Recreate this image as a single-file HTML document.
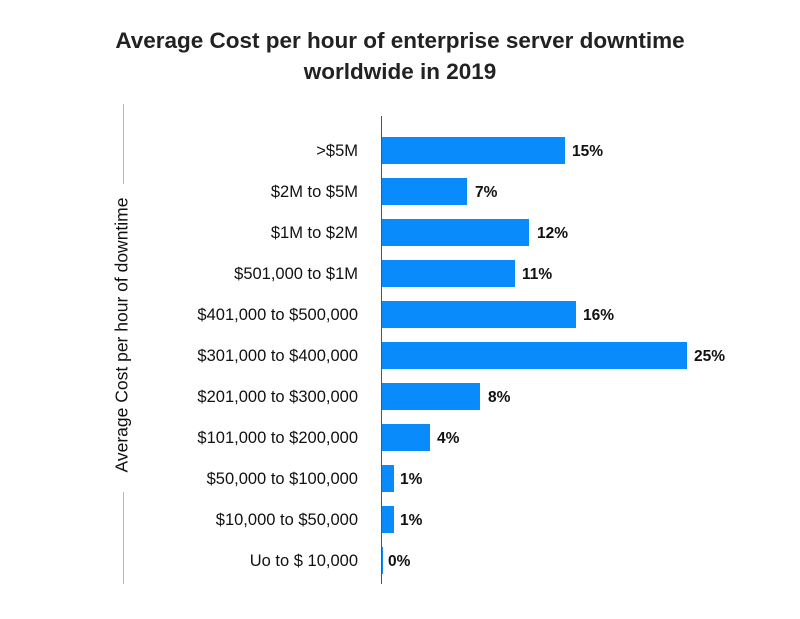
<!DOCTYPE html>
<html><head><style>
body{margin:0;width:800px;height:619px;background:#fff;font-family:"Liberation Sans",sans-serif;position:relative;overflow:hidden;color:#111}
.t{position:absolute;left:0;width:800px;text-align:center;font-size:22.5px;font-weight:bold;color:#222}
.l{position:absolute;right:442px;font-size:16.5px;text-align:right;white-space:nowrap}
.b{position:absolute;left:382px;height:27px;background:#0a8bfc}
.v{position:absolute;font-size:15.5px;font-weight:bold}
</style></head><body>
<div class="t" style="top:28px">Average Cost per hour of enterprise server downtime</div>
<div class="t" style="top:59px">worldwide in 2019</div>
<div style="position:absolute;left:123px;top:104px;width:1px;height:80px;background:#bbb"></div>
<div style="position:absolute;left:123px;top:492px;width:1px;height:92px;background:#bbb"></div>
<div style="position:absolute;left:122px;top:335px;transform:translate(-50%,-50%) rotate(-90deg);font-size:17.5px;white-space:nowrap">Average Cost per hour of downtime</div>
<div style="position:absolute;left:381px;top:116px;width:1px;height:468px;background:#555"></div>
<div class="l" style="top:142px">&gt;$5M</div><div class="b" style="top:137px;width:183px"></div><div class="v" style="left:572px;top:143px">15%</div>
<div class="l" style="top:183px">$2M to $5M</div><div class="b" style="top:178px;width:85px"></div><div class="v" style="left:475px;top:184px">7%</div>
<div class="l" style="top:224px">$1M to $2M</div><div class="b" style="top:219px;width:147px"></div><div class="v" style="left:537px;top:225px">12%</div>
<div class="l" style="top:265px">$501,000 to $1M</div><div class="b" style="top:260px;width:133px"></div><div class="v" style="left:522px;top:266px">11%</div>
<div class="l" style="top:306px">$401,000 to $500,000</div><div class="b" style="top:301px;width:194px"></div><div class="v" style="left:583px;top:307px">16%</div>
<div class="l" style="top:347px">$301,000 to $400,000</div><div class="b" style="top:342px;width:305px"></div><div class="v" style="left:694px;top:348px">25%</div>
<div class="l" style="top:388px">$201,000 to $300,000</div><div class="b" style="top:383px;width:98px"></div><div class="v" style="left:488px;top:389px">8%</div>
<div class="l" style="top:429px">$101,000 to $200,000</div><div class="b" style="top:424px;width:48px"></div><div class="v" style="left:437px;top:430px">4%</div>
<div class="l" style="top:470px">$50,000 to $100,000</div><div class="b" style="top:465px;width:12px"></div><div class="v" style="left:400px;top:471px">1%</div>
<div class="l" style="top:511px">$10,000 to $50,000</div><div class="b" style="top:506px;width:12px"></div><div class="v" style="left:400px;top:512px">1%</div>
<div class="l" style="top:552px">Uo to $ 10,000</div><div class="b" style="top:547px;width:1px"></div><div class="v" style="left:388px;top:553px">0%</div>
</body></html>
